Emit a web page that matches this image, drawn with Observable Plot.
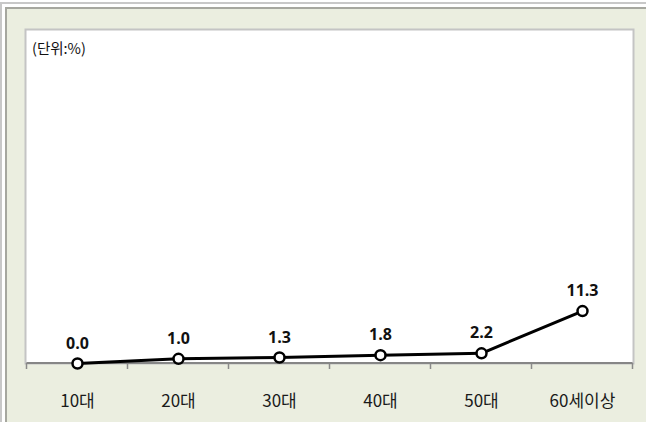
<!DOCTYPE html>
<html>
<head>
<meta charset="utf-8">
<script src="https://cdn.jsdelivr.net/npm/d3@7"></script>
<script src="https://cdn.jsdelivr.net/npm/@observablehq/plot@0.6"></script>
<style>
  html, body { margin: 0; padding: 0; background: #ffffff; }
  #wrap { position: relative; width: 646px; height: 422px; overflow: hidden; }
  #outer { position: absolute; left: 0; top: 2px; width: 646px; height: 420px;
           border-left: 2px solid #c8c8c8; border-top: 2px solid #c8c8c8; box-sizing: border-box; }
  #beige { position: absolute; left: 5px; top: 7px; right: 0; bottom: 0;
           background: #ebeee0; border-left: 2px solid #a6a79f; border-top: 2px solid #a6a79f; }
  #chart { position: absolute; left: 0; top: 0; }
  #unit { position: absolute; left: 32px; top: 37px; font-family: "Noto Sans CJK KR", sans-serif;
          font-size: 14.5px; color: #111; }
</style>
</head>
<body>
<div id="wrap">
  <div id="outer"></div>
  <div id="beige"></div>
  <div id="chart"></div>
  <div id="unit"></div>
</div>
<script>
const categories = ["10대", "20대", "30대", "40대", "50대", "60세이상"];
const values = [0.0, 1.0, 1.3, 1.8, 2.2, 11.3];
const unitLabel = "(단위:%)";

const data = categories.map((c, i) => ({category: c, value: values[i]}));

function bandTicks(index, scales, channels, dimensions) {
  const x = scales.x;
  const step = x(categories[1]) - x(categories[0]);
  const y0 = scales.y(0);
  const g = d3.create("svg:g");
  const edges = categories.map(c => x(c) - step / 2).concat([x(categories[categories.length - 1]) + step / 2]);
  g.selectAll("line").data(edges).join("line")
    .attr("x1", d => d).attr("x2", d => d)
    .attr("y1", y0).attr("y2", y0 + 6)
    .attr("stroke", "#8a8a8a").attr("stroke-width", 1.5);
  g.append("line")
    .attr("x1", edges[0]).attr("x2", edges[edges.length - 1])
    .attr("y1", y0).attr("y2", y0)
    .attr("stroke", "#868686").attr("stroke-width", 2);
  return g.node();
}

const chart = Plot.plot({
  width: 646,
  height: 422,
  marginTop: 29,
  marginRight: 13,
  marginBottom: 59,
  marginLeft: 25,
  style: {background: "transparent", fontFamily: "'Noto Sans CJK KR', sans-serif", overflow: "visible"},
  x: {type: "point", domain: categories, padding: 0.5, label: null},
  y: {domain: [0, 72], axis: null},
  marks: [
    Plot.frame({fill: "white", stroke: "#c4c4c4", strokeWidth: 2}),
    bandTicks,
    Plot.axisX({tickSize: 0, tickPadding: 31, fontSize: 17, fill: "#1a1a1a", label: null}),
    Plot.line(data, {x: "category", y: "value", stroke: "black", strokeWidth: 3}),
    Plot.dot(data, {x: "category", y: "value", r: 5, fill: "white", stroke: "black", strokeWidth: 2.5}),
    Plot.text(data, {x: "category", y: "value", text: d => d3.format(".1f")(d.value), dy: -20,
      fontWeight: "bold", fontSize: 16, fontFamily: "'Open Sans', sans-serif", fill: "#111"})
  ]
});
document.getElementById("chart").appendChild(chart);
document.getElementById("unit").textContent = unitLabel;
</script>
</body>
</html>
